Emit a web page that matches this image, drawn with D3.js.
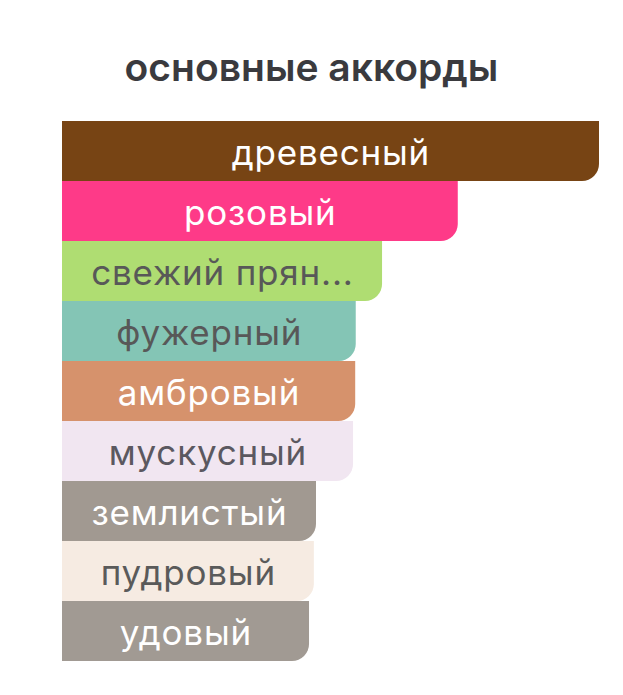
<!DOCTYPE html>
<html>
<head>
<meta charset="utf-8">
<script src="https://cdn.jsdelivr.net/npm/d3@7"></script>
<style>
  body { margin: 0; background: #fff; }
  svg { display: block; }
</style>
</head>
<body>
<svg id="chart-svg"></svg>
<script>
// accord data (width in % of the top accord)
let accords = ["древесный", "розовый", "свежий пряный", "фужерный", "амбровый",
               "мускусный", "землистый", "пудровый", "удовый"];
let strengths = [100, 73.7, 59.6, 54.7, 54.6, 54.2, 47.3, 46.9, 46.0];
let barColors = ["#774414", "#fe3a88", "#afdd72", "#84c5b5", "#d6926c",
                 "#f1e6f1", "#a19991", "#f6ebe2", "#a19a93"];
let textColors = ["#ffffff", "#ffffff", "#585858", "#585858", "#ffffff",
                  "#5b5860", "#ffffff", "#5a5a5a", "#ffffff"];
let title = "основные аккорды";

//svg specification
let width = 623;
let height = 695;
let margin = {top: 121, left: 62, right: 24, bottom: 34};
let cornerRadius = 17;
let maxLabelChars = 12;

let svg = d3.select("#chart-svg")
    .attr("width", width)
    .attr("height", height);

let rows = accords.map((name, i) => ({
    name: name,
    value: strengths[i],
    color: barColors[i],
    textColor: textColors[i]
}));

let xScale = d3.scaleLinear()
    .domain([0, 100])
    .range([margin.left, width - margin.right]);

let yScale = d3.scaleBand()
    .domain(accords)
    .range([margin.top, height - margin.bottom])
    .padding(0);

// bar with only the bottom-right corner rounded
function barPath(d)
{
    const x0 = xScale(0);
    const x1 = xScale(d.value);
    const y0 = yScale(d.name);
    const y1 = y0 + yScale.bandwidth();
    const r = cornerRadius;
    return `M${x0},${y0}H${x1}V${y1 - r}A${r},${r} 0 0 1 ${x1 - r},${y1}H${x0}Z`;
}

function shortLabel(name)
{
    return name.length > maxLabelChars ? name.slice(0, maxLabelChars - 1) + "..." : name;
}

svg.append("text")
    .attr("x", width / 2)
    .attr("y", 81)
    .attr("text-anchor", "middle")
    .attr("font-family", "Inter, 'Noto Sans', sans-serif")
    .attr("font-weight", 600)
    .attr("font-size", 39)
    .attr("fill", "#3a3a3e")
    .text(title);

let bars = svg.append("g");

bars.selectAll("path")
    .data(rows)
    .join("path")
    .attr("d", barPath)
    .attr("fill", d => d.color);

bars.selectAll("text")
    .data(rows)
    .join("text")
    .attr("x", d => (xScale(0) + xScale(d.value)) / 2 + 0.4)
    .attr("y", d => yScale(d.name) + yScale.bandwidth() / 2 + 14)
    .attr("text-anchor", "middle")
    .attr("font-family", "Inter, 'Noto Sans', sans-serif")
    .attr("font-size", 35)
    .attr("letter-spacing", "0.8px")
    .attr("fill", d => d.textColor)
    .text(d => shortLabel(d.name));
</script>
</body>
</html>
